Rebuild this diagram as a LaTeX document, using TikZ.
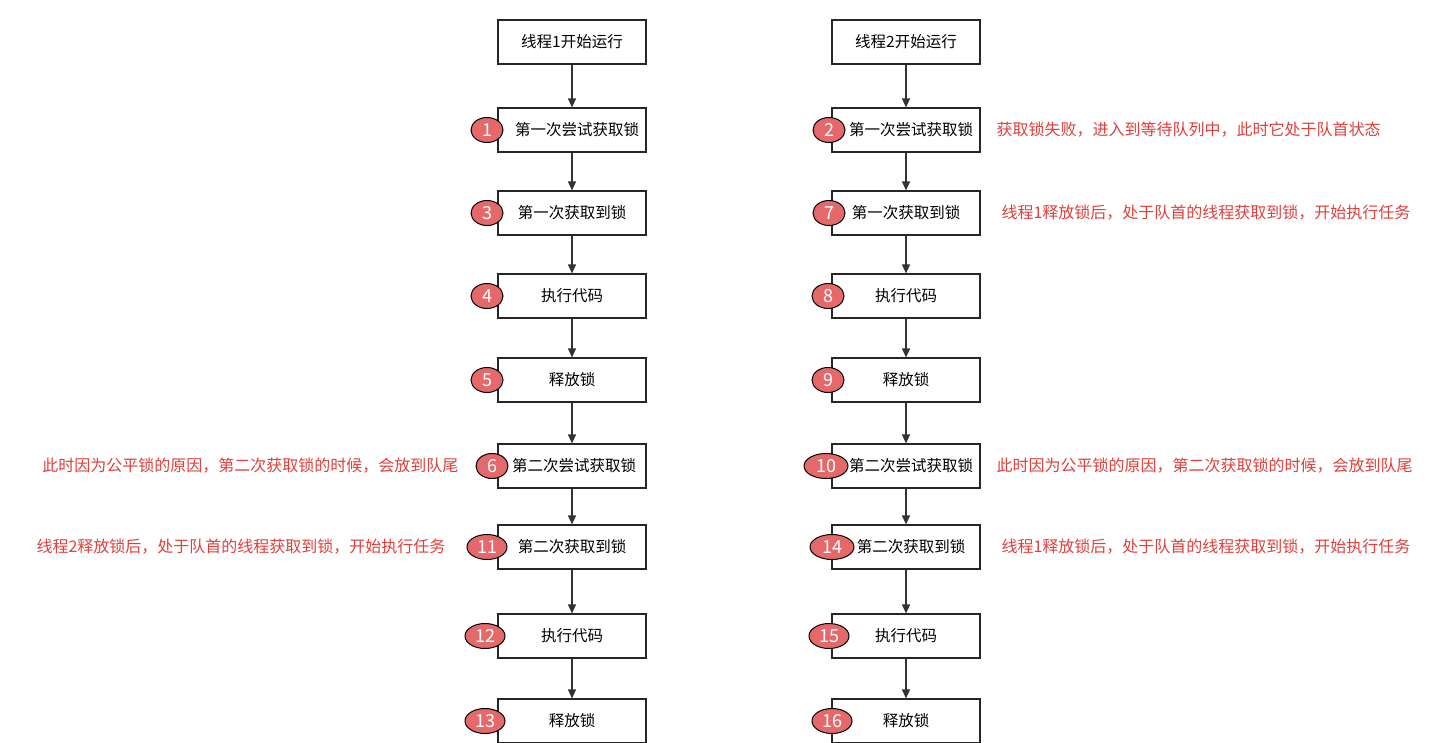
\documentclass[tikz,border=0pt]{standalone}
\usepackage{fontspec}
\setmainfont{Noto Sans CJK SC}
\usetikzlibrary{arrows.meta,shapes.geometric}
\definecolor{badge}{HTML}{E5696A}
\definecolor{note}{HTML}{E0403C}
\begin{document}
\begin{tikzpicture}[x=1pt,y=-1pt,
  box/.style={draw=black!85,line width=1.2pt,minimum width=148pt,minimum height=44pt,inner sep=0pt,font=\fontsize{15.5}{17}\selectfont,fill=white},
  bdg/.style={ellipse,draw=black,line width=1pt,fill=badge,text=white,minimum height=25pt,inner sep=1pt,font=\fontsize{18}{19}\selectfont},
  notel/.style={text=note,font=\fontsize{16}{18}\selectfont},
  arr/.style={draw=black!80,line width=1.3pt,-{Triangle[length=9pt,width=8pt]}}]
\useasboundingbox (0,0) rectangle (1434,742);
\fill[white] (0,0) rectangle (1434,742);
% left column
\node[box] (a0) at (572,42) {线程1开始运行};
\node[box] (a1) at (572,130) {\hspace*{10pt}第一次尝试获取锁};
\node[box] (a2) at (572,213) {第一次获取到锁};
\node[box] (a3) at (572,296) {执行代码};
\node[box] (a4) at (572,380) {释放锁};
\node[box] (a5) at (572,466) {\hspace*{4pt}第二次尝试获取锁};
\node[box] (a6) at (572,547) {第二次获取到锁};
\node[box] (a7) at (572,636) {执行代码};
\node[box] (a8) at (572,721) {释放锁};
\foreach \i [remember=\i as \j (initially a0)] in {a1,a2,a3,a4,a5,a6,a7,a8} \draw[arr] (\j) -- (\i);
% right column
\node[box] (b0) at (906,42) {线程2开始运行};
\node[box] (b1) at (906,130) {\hspace*{10pt}第一次尝试获取锁};
\node[box] (b2) at (906,213) {第一次获取到锁};
\node[box] (b3) at (906,296) {执行代码};
\node[box] (b4) at (906,380) {释放锁};
\node[box] (b5) at (906,466) {\hspace*{10pt}第二次尝试获取锁};
\node[box] (b6) at (906,547) {\hspace*{10pt}第二次获取到锁};
\node[box] (b7) at (906,636) {执行代码};
\node[box] (b8) at (906,721) {释放锁};
\foreach \i [remember=\i as \j (initially b0)] in {b1,b2,b3,b4,b5,b6,b7,b8} \draw[arr] (\j) -- (\i);
% badges
\node[bdg,minimum width=32pt] (n1) at (487,130) {1};
\node[bdg,minimum width=32pt] (n3) at (487,213) {3};
\node[bdg,minimum width=32pt] (n4) at (487,296) {4};
\node[bdg,minimum width=32pt] (n5) at (487,380) {5};
\node[bdg,minimum width=32pt] (n6) at (492,466) {6};
\node[bdg,minimum width=40pt] (n11) at (487,547) {11};
\node[bdg,minimum width=40pt] (n12) at (485,636) {12};
\node[bdg,minimum width=40pt] (n13) at (485,721) {13};
\node[bdg,minimum width=32pt] (n2) at (829,130) {2};
\node[bdg,minimum width=32pt] (n7) at (829,213) {7};
\node[bdg,minimum width=32pt] (n8) at (828,296) {8};
\node[bdg,minimum width=32pt] (n9) at (828,380) {9};
\node[bdg,minimum width=44pt] (n10) at (826,466) {10};
\node[bdg,minimum width=44pt] (n14) at (832,547) {14};
\node[bdg,minimum width=40pt] (n15) at (829,636) {15};
\node[bdg,minimum width=40pt] (n16) at (832,721) {16};
% notes
\node[notel,anchor=west] (t1) at (993,130) {获取锁失败，进入到等待队列中，此时它处于队首状态};
\node[notel,anchor=west] (t2) at (998,213) {线程1释放锁后，处于队首的线程获取到锁，开始执行任务};
\node[notel,anchor=west] (t3) at (993,466) {此时因为公平锁的原因，第二次获取锁的时候，会放到队尾};
\node[notel,anchor=west] (t4) at (998,547) {线程1释放锁后，处于队首的线程获取到锁，开始执行任务};
\node[notel,anchor=east] (t5) at (462,466) {此时因为公平锁的原因，第二次获取锁的时候，会放到队尾};
\node[notel,anchor=east] (t6) at (449,547) {线程2释放锁后，处于队首的线程获取到锁，开始执行任务};
\end{tikzpicture}
\end{document}
